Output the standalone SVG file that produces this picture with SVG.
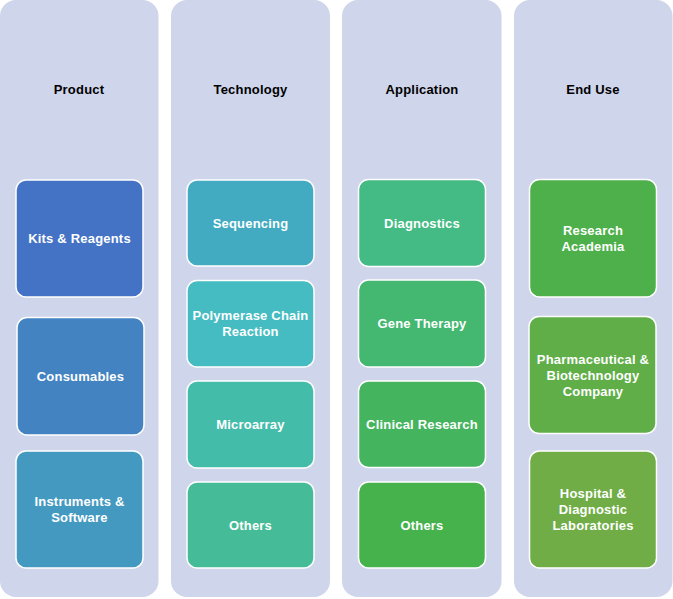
<svg xmlns="http://www.w3.org/2000/svg" width="673" height="599" viewBox="0 0 673 599">
<style>
.col{fill:#CFD5EA;}
.box{stroke:#FFFFFF;stroke-width:1.5;}
.title{font-family:"Liberation Sans",Arial,sans-serif;font-size:13px;font-weight:bold;fill:#000000;text-anchor:middle;dominant-baseline:central;letter-spacing:0.2px;}
.lbl{font-family:"Liberation Sans",Arial,sans-serif;font-size:13px;font-weight:bold;fill:#FFFFFF;text-anchor:middle;dominant-baseline:central;letter-spacing:0.2px;}
</style>
<rect width="673" height="599" fill="#FFFFFF"/>
<g id="col-product">
<rect class="col" x="0" y="0" width="158.5" height="597" rx="16"/>
<text class="title" x="79" y="89">Product</text>
</g>
<g id="col-technology">
<rect class="col" x="171" y="0" width="159" height="597" rx="16"/>
<text class="title" x="250.5" y="89">Technology</text>
</g>
<g id="col-application">
<rect class="col" x="342" y="0" width="159.5" height="597" rx="16"/>
<text class="title" x="422" y="89">Application</text>
</g>
<g id="col-enduse">
<rect class="col" x="514" y="0" width="158.5" height="597" rx="16"/>
<text class="title" x="593" y="89">End Use</text>
</g>
<g id="connectors"></g>
<g id="kits">
<rect class="box" x="16" y="180" width="127" height="117" rx="10" fill="#4472C4"/>
<text class="lbl" x="79.5" y="238.5">Kits &amp; Reagents</text>
</g>
<g id="consumables">
<rect class="box" x="17" y="317.5" width="127" height="117.5" rx="10" fill="#4383C1"/>
<text class="lbl" x="80.5" y="376">Consumables</text>
</g>
<g id="instruments">
<rect class="box" x="16" y="451" width="127" height="117" rx="10" fill="#4499C1"/>
<text class="lbl" x="79.5" y="501.5">Instruments &amp;</text>
<text class="lbl" x="79.5" y="517.5">Software</text>
</g>
<g id="sequencing">
<rect class="box" x="187" y="180" width="127" height="86" rx="10" fill="#42ABC1"/>
<text class="lbl" x="250.5" y="223">Sequencing</text>
</g>
<g id="pcr">
<rect class="box" x="187" y="280.5" width="127" height="86.5" rx="10" fill="#44BCC1"/>
<text class="lbl" x="250.5" y="315.5">Polymerase Chain</text>
<text class="lbl" x="250.5" y="331.5">Reaction</text>
</g>
<g id="microarray">
<rect class="box" x="187" y="381" width="127" height="87" rx="10" fill="#44BCAA"/>
<text class="lbl" x="250.5" y="424.5">Microarray</text>
</g>
<g id="tech-others">
<rect class="box" x="187" y="482" width="127" height="86" rx="10" fill="#45BC97"/>
<text class="lbl" x="250.5" y="525">Others</text>
</g>
<g id="diagnostics">
<rect class="box" x="358.5" y="179.5" width="127" height="87" rx="10" fill="#44BB84"/>
<text class="lbl" x="422" y="223">Diagnostics</text>
</g>
<g id="gene-therapy">
<rect class="box" x="358.5" y="280" width="127" height="87" rx="10" fill="#44B770"/>
<text class="lbl" x="422" y="323.5">Gene Therapy</text>
</g>
<g id="clinical-research">
<rect class="box" x="358.5" y="381" width="127" height="86.5" rx="10" fill="#44B45E"/>
<text class="lbl" x="422" y="424.5">Clinical Research</text>
</g>
<g id="app-others">
<rect class="box" x="358.5" y="482" width="127" height="86" rx="10" fill="#45B24C"/>
<text class="lbl" x="422" y="525">Others</text>
</g>
<g id="research-academia">
<rect class="box" x="529.5" y="179.5" width="127" height="117.5" rx="10" fill="#4EB04A"/>
<text class="lbl" x="593" y="230.5">Research</text>
<text class="lbl" x="593" y="246.5">Academia</text>
</g>
<g id="pharma">
<rect class="box" x="529" y="316.5" width="127" height="117" rx="10" fill="#5FAE48"/>
<text class="lbl" x="593" y="359">Pharmaceutical &amp;</text>
<text class="lbl" x="593" y="375">Biotechnology</text>
<text class="lbl" x="593" y="391">Company</text>
</g>
<g id="hospital">
<rect class="box" x="529.5" y="451" width="127" height="117" rx="10" fill="#70AD47"/>
<text class="lbl" x="593" y="493.5">Hospital &amp;</text>
<text class="lbl" x="593" y="509.5">Diagnostic</text>
<text class="lbl" x="593" y="525.5">Laboratories</text>
</g>
</svg>
